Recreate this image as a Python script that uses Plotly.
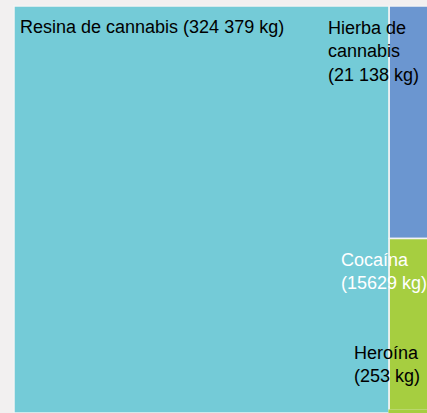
import plotly.graph_objects as go

# %% Incautaciones de drogas (kg)
drogas = ["Resina de cannabis", "Hierba de cannabis", "Cocaína", "Heroína"]
kilos = [324379, 21138, 15629, 253]
etiquetas = [
    "Resina de cannabis (324 379 kg)",
    "Hierba de<br>cannabis<br>(21 138 kg)",
    "Cocaína<br>(15629 kg)",
    "Heroína<br>(253 kg)",
]
colores = ["#74cbd7", "#6b96d0", "#a6ce40", "#a6ce40"]
bordes = ["#f4f4f4", "#f4f4f4", "#f4f4f4", "#a6ce40"]
color_texto = ["black", "black", "white", "black"]
# posición de las etiquetas (papel): se desbordan de las cajas pequeñas
pos_x = [0.0099, 0.746, 0.7776, 0.808]
pos_y = [0.978, 0.976, 0.405, 0.178]

fig = go.Figure(go.Treemap(
    labels=drogas,
    parents=[""] * len(drogas),
    values=kilos,
    textinfo="none",
    marker=dict(colors=colores, line=dict(color=bordes, width=1.5),
                pad=dict(t=0, l=0, r=0, b=0)),
    tiling=dict(packing="squarify", pad=0),
    pathbar=dict(visible=False),
    sort=True,
    hoverinfo="label+value",
    domain=dict(x=[0, 1], y=[0, 1]),
))

for txt, col, x, y in zip(etiquetas, color_texto, pos_x, pos_y):
    fig.add_annotation(
        text=txt, x=x, y=y, xref="paper", yref="paper",
        xanchor="left", yanchor="top", align="left", showarrow=False,
        font=dict(family="Liberation Sans, Arial", size=18, color=col),
    )

# el gráfico original se sale un poco por la derecha
fig.update_layout(
    width=432,
    height=413,
    margin=dict(l=14, r=0, t=6, b=0),
    paper_bgcolor="#f2f0f0",
)

# sin margen del body para que la figura llene la ventana
fig.write_html(
    "out.html",
    config={"displayModeBar": False},
    post_script="document.body.style.margin='0';document.body.style.overflow='hidden';",
)
